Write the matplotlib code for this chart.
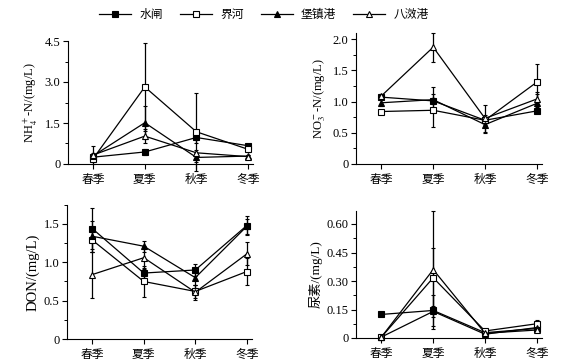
import numpy as np
import matplotlib
matplotlib.use("Agg")
import matplotlib.pyplot as plt
from matplotlib.lines import Line2D
from matplotlib.ticker import MultipleLocator, FixedFormatter, FixedLocator

plt.rcParams['font.family'] = ['Liberation Serif', 'Noto Sans CJK SC']
plt.rcParams['mathtext.fontset'] = 'stix'

seasons = ["春季", "夏季", "秋季", "冬季"]
sites = ["水闸", "界河", "堡镇港", "八滧港"]

# NH4+-N (mg/L)
nh4 = {
    "水闸":   [0.25, 0.44, 0.97, 0.67],
    "界河":   [0.20, 2.82, 1.18, 0.54],
    "堡镇港": [0.30, 1.51, 0.24, 0.29],
    "八滧港": [0.33, 1.02, 0.41, 0.27],
}
nh4_err = {
    "水闸":   [0.10, 0.10, 0.20, 0.05],
    "界河":   [0.10, 1.60, 1.43, 0.10],
    "堡镇港": [0.10, 0.60, 0.15, 0.05],
    "八滧港": [0.33, 0.25, 0.10, 0.05],
}

# NO3--N (mg/L)
no3 = {
    "水闸":   [1.07, 1.01, 0.70, 0.85],
    "界河":   [0.84, 0.86, 0.70, 1.31],
    "堡镇港": [0.98, 1.03, 0.63, 0.97],
    "八滧港": [1.09, 1.87, 0.73, 1.04],
}
no3_err = {
    "水闸":   [0.03, 0.05, 0.05, 0.04],
    "界河":   [0.03, 0.26, 0.08, 0.29],
    "堡镇港": [0.05, 0.20, 0.13, 0.15],
    "八滧港": [0.03, 0.23, 0.21, 0.12],
}

# DON (mg/L)
don = {
    "水闸":   [1.44, 0.86, 0.90, 1.48],
    "界河":   [1.29, 0.75, 0.62, 0.88],
    "堡镇港": [1.34, 1.21, 0.80, 1.47],
    "八滧港": [0.84, 1.06, 0.61, 1.11],
}
don_err = {
    "水闸":   [0.27, 0.06, 0.08, 0.13],
    "界河":   [0.15, 0.20, 0.08, 0.18],
    "堡镇港": [0.20, 0.07, 0.10, 0.10],
    "八滧港": [0.30, 0.15, 0.10, 0.15],
}

# urea (mg/L)
urea = {
    "水闸":   [0.124, 0.145, 0.028, 0.050],
    "界河":   [0.005, 0.317, 0.037, 0.075],
    "堡镇港": [0.005, 0.140, 0.020, 0.055],
    "八滧港": [0.005, 0.360, 0.025, 0.042],
}
urea_err = {
    "水闸":   [0.005, 0.080, 0.010, 0.010],
    "界河":   [0.005, 0.155, 0.010, 0.020],
    "堡镇港": [0.005, 0.030, 0.010, 0.010],
    "八滧港": [0.005, 0.310, 0.010, 0.010],
}

styles = {
    "水闸":   dict(marker="s", mfc="black"),
    "界河":   dict(marker="s", mfc="white"),
    "堡镇港": dict(marker="^", mfc="black"),
    "八滧港": dict(marker="^", mfc="white"),
}

W, H = 573, 364
fig = plt.figure(figsize=(W / 100, H / 100), dpi=100)


def px_axes(left, right, bottom, top):
    return fig.add_axes([left / W, 1 - bottom / H, (right - left) / W, (bottom - top) / H])


panels = [
    (px_axes(68, 253, 164, 41), nh4, nh4_err, (0, 4.5), 1.5, ["0", "1.5", "3.0", "4.5"],
     r"NH$_4^+$-N/(mg/L)", 9),
    (px_axes(356, 542, 164, 32.8), no3, no3_err, (0, 2.1), 0.5, ["0", "0.5", "1.0", "1.5", "2.0"],
     r"NO$_3^-$-N/(mg/L)", 9),
    (px_axes(67, 252, 339, 204.8), don, don_err, (0, 1.75), 0.5, ["0", "0.5", "1.0", "1.5"],
     "DON/(mg/L)", 10.5),
    (px_axes(356, 542, 338, 210.7), urea, urea_err, (0, 0.67), 0.15, ["0", "0.15", "0.30", "0.45", "0.60"],
     "尿素/(mg/L)", 9.5),
]

x = np.arange(len(seasons))
for ax, data, err, ylim, step, ylabels, ylabel, lsize in panels:
    for s in sites:
        st = styles[s]
        ax.errorbar(x, data[s], yerr=err[s], color="black", lw=0.9,
                    marker=st["marker"], mfc=st["mfc"], mec="black", ms=5, mew=0.8,
                    elinewidth=0.9, capsize=1.5, capthick=0.9, clip_on=False, zorder=3)
    ax.set_xlim(-0.49, 3.1)
    ax.set_ylim(*ylim)
    ax.set_xticks(x)
    ax.set_xticklabels(seasons, fontsize=8.5)
    ax.yaxis.set_major_locator(FixedLocator([i * step for i in range(len(ylabels))]))
    ax.yaxis.set_major_formatter(FixedFormatter(ylabels))
    ax.yaxis.set_minor_locator(MultipleLocator(step / 2))
    ax.tick_params(axis="y", labelsize=9, direction="out", length=3.5, width=0.8, pad=2)
    ax.tick_params(axis="y", which="minor", length=2, width=0.7)
    ax.tick_params(axis="x", direction="out", length=3.5, width=0.8, pad=4)
    ax.spines["top"].set_visible(False)
    ax.spines["right"].set_visible(False)
    ax.spines["left"].set_linewidth(0.8)
    ax.spines["bottom"].set_linewidth(0.8)
    ax.set_ylabel(ylabel, fontsize=lsize, labelpad=3)

handles = [Line2D([], [], color="black", lw=0.9, marker=styles[s]["marker"],
                  mfc=styles[s]["mfc"], mec="black", ms=5, mew=0.8) for s in sites]
fig.legend(handles, sites, loc="center", bbox_to_anchor=(264 / W, 1 - 15 / H), ncol=4,
           frameon=False, fontsize=8.5, handlelength=2.7, columnspacing=1.45, handletextpad=0.7)

fig.savefig("out.png", dpi=100)
